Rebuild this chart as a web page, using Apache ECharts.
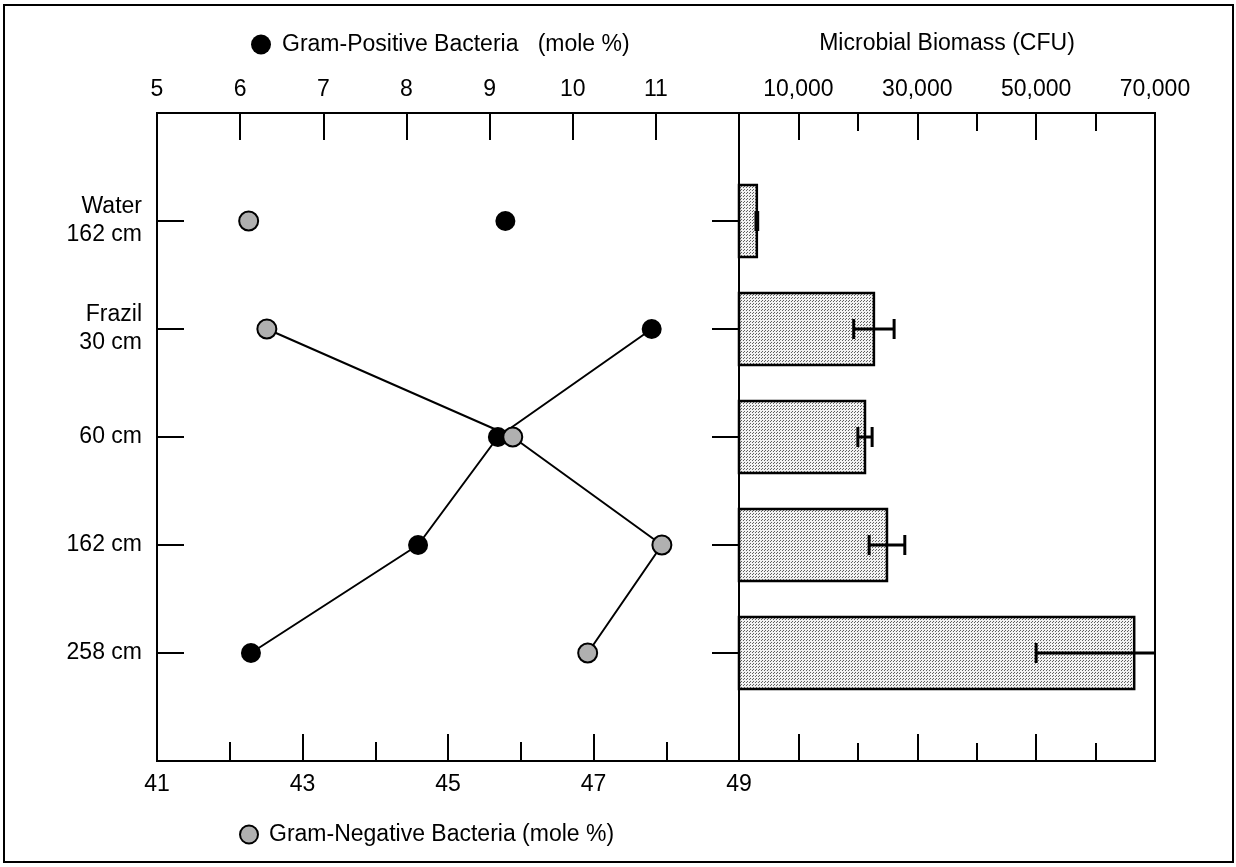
<!DOCTYPE html>
<html>
<head>
<meta charset="utf-8">
<script src="https://cdn.jsdelivr.net/npm/echarts@6/dist/echarts.min.js"></script>
<style>
  html, body { margin: 0; padding: 0; background: #fff; }
  #chart { width: 1236px; height: 867px; }
</style>
</head>
<body>
<div id="chart"></div>
<script>
// depth categories (top to bottom)
const categories = ['Water\n162 cm', 'Frazil\n30 cm', '60 cm', '162 cm', '258 cm'];
// mole % values
const gramPositive = [9.19, 10.95, 9.10, 8.14, 6.13];
const gramNegative = [42.26, 42.51, 45.89, 47.94, 46.92];
// microbial biomass (CFU) and error
const biomass = [3000, 22700, 21200, 24900, 66500];
const biomassErr = [150, 3400, 1200, 3000, 16500];

// tick labels
const gnLabels = [41, 43, 45, 47, 49];
const gnMinor = [42, 44, 46, 48];
const cfuLabels = [10000, 30000, 50000, 70000];
const cfuMajor = [10000, 30000, 50000];
const cfuMinor = [20000, 40000, 60000];

const GP_NAME = 'Gram-Positive Bacteria   (mole %)';
const GN_NAME = 'Gram-Negative Bacteria (mole %)';
const CFU_MAX = 70000;
const FONT = '"Liberation Sans", Arial, sans-serif';
const catIdx = categories.map((c, i) => i);

// stippled grey fill for the bars
function stipple() {
    const c = document.createElement('canvas');
    c.width = 3; c.height = 3;
    const ctx = c.getContext('2d');
    ctx.fillStyle = '#f2f2f2';
    ctx.fillRect(0, 0, 3, 3);
    ctx.fillStyle = '#606060';
    ctx.fillRect(0, 0, 1, 1);
    ctx.fillRect(2, 1, 1, 1);
    return { image: c, repeat: 'repeat' };
}
const barFill = stipple();

const chart = echarts.init(document.getElementById('chart'));

const lbl = { color: '#000', fontSize: 23, fontFamily: FONT };
const axLine = { show: true, onZero: false, lineStyle: { color: '#000', width: 2 } };
const noLine = { show: false, onZero: false };
const tickStyle = { color: '#000', width: 2 };

function fmtThousands(v) {
    return String(v).replace(/\B(?=(\d{3})+(?!\d))/g, ',');
}

let option = {
    animation: false,
    backgroundColor: '#fff',
    textStyle: { fontFamily: FONT },
    grid: [
        { left: 157, top: 113, width: 582, height: 648, show: true, borderColor: '#000', borderWidth: 2 },
        { left: 739, top: 113, width: 416, height: 648, show: true, borderColor: '#000', borderWidth: 2 }
    ],
    legend: [
        {
            left: 251, top: 33, padding: 0, itemWidth: 20, itemHeight: 20,
            selectedMode: false,
            data: [{ name: GP_NAME, icon: 'circle', itemStyle: { color: '#000', borderColor: '#000', borderWidth: 0, opacity: 1 } }],
            textStyle: { color: '#000', fontSize: 23, fontFamily: FONT, padding: [0, 0, 0, 6] }
        },
        {
            left: 239, top: 823, padding: 0, itemWidth: 18, itemHeight: 18,
            selectedMode: false,
            data: [{ name: GN_NAME, icon: 'circle', itemStyle: { color: '#b0b0b0', borderColor: '#000', borderWidth: 2, opacity: 1 } }],
            textStyle: { color: '#000', fontSize: 23, fontFamily: FONT, padding: [0, 0, 0, 6] }
        }
    ],
    xAxis: [
        {   // gram-positive, top of left panel
            type: 'value', gridIndex: 0, position: 'top', min: 5, max: 12, interval: 1,
            axisLine: axLine, splitLine: { show: false },
            axisTick: { inside: true, length: 27, lineStyle: tickStyle },
            axisLabel: Object.assign({ margin: 12, formatter: v => (v === 12 ? '' : v) }, lbl)
        },
        {   // gram-negative, bottom of left panel
            type: 'value', gridIndex: 0, position: 'bottom', min: 41, max: 49, interval: 1,
            axisLine: axLine, splitLine: { show: false },
            axisTick: { inside: true, length: 27, lineStyle: tickStyle, customValues: gnLabels },
            axisLabel: Object.assign({ margin: 12, customValues: gnLabels }, lbl)
        },
        {
            type: 'value', gridIndex: 0, position: 'bottom', min: 41, max: 49, interval: 1,
            axisLine: noLine, splitLine: { show: false },
            axisTick: { inside: true, length: 19, lineStyle: tickStyle, customValues: gnMinor },
            axisLabel: { show: false }
        },
        {   // biomass, top of right panel
            type: 'value', gridIndex: 1, position: 'top', min: 0, max: CFU_MAX, interval: 10000,
            axisLine: axLine, splitLine: { show: false },
            axisTick: { inside: true, length: 27, lineStyle: tickStyle, customValues: cfuMajor },
            axisLabel: Object.assign({ margin: 12, customValues: cfuLabels, formatter: fmtThousands }, lbl)
        },
        {
            type: 'value', gridIndex: 1, position: 'top', min: 0, max: CFU_MAX, interval: 10000,
            axisLine: noLine, splitLine: { show: false },
            axisTick: { inside: true, length: 18, lineStyle: tickStyle, customValues: cfuMinor },
            axisLabel: { show: false }
        },
        {
            type: 'value', gridIndex: 1, position: 'bottom', min: 0, max: CFU_MAX, interval: 10000,
            axisLine: axLine, splitLine: { show: false },
            axisTick: { inside: true, length: 27, lineStyle: tickStyle, customValues: cfuMajor },
            axisLabel: { show: false }
        },
        {
            type: 'value', gridIndex: 1, position: 'bottom', min: 0, max: CFU_MAX, interval: 10000,
            axisLine: noLine, splitLine: { show: false },
            axisTick: { inside: true, length: 18, lineStyle: tickStyle, customValues: cfuMinor },
            axisLabel: { show: false }
        }
    ],
    yAxis: [
        {
            type: 'value', gridIndex: 0, inverse: true, min: -1, max: 5, interval: 1,
            axisLine: axLine, splitLine: { show: false },
            axisTick: { inside: true, length: 27, lineStyle: tickStyle, customValues: catIdx },
            axisLabel: Object.assign({
                margin: 15, lineHeight: 28, align: 'right', customValues: catIdx,
                formatter: v => categories[v]
            }, lbl)
        },
        {
            type: 'value', gridIndex: 1, inverse: true, min: -1, max: 5, interval: 1,
            axisLine: axLine, splitLine: { show: false },
            axisTick: { inside: false, length: 27, lineStyle: tickStyle, customValues: catIdx },
            axisLabel: { show: false }
        }
    ],
    graphic: [
        {
            type: 'rect', silent: true, z: 0,
            shape: { x: 4, y: 5, width: 1229, height: 857 },
            style: { fill: 'none', stroke: '#000', lineWidth: 2 }
        },
        {
            type: 'text', x: 947, y: 44, silent: true,
            style: { text: 'Microbial Biomass (CFU)', fill: '#000', font: '23px ' + FONT, align: 'center', verticalAlign: 'middle' }
        }
    ],
    series: [
        {
            name: GP_NAME, type: 'line', xAxisIndex: 0, yAxisIndex: 0,
            symbol: 'circle', symbolSize: 20,
            itemStyle: { color: '#000', opacity: 1 }, lineStyle: { color: '#000', width: 2 },
            data: catIdx.slice(1).map(i => [gramPositive[i], i]), z: 3
        },
        {
            name: GP_NAME, type: 'scatter', xAxisIndex: 0, yAxisIndex: 0,
            symbol: 'circle', symbolSize: 20, itemStyle: { color: '#000', opacity: 1 },
            data: [[gramPositive[0], 0]], z: 3
        },
        {
            name: GN_NAME, type: 'line', xAxisIndex: 1, yAxisIndex: 0,
            symbol: 'circle', symbolSize: 19,
            itemStyle: { color: '#b0b0b0', borderColor: '#000', borderWidth: 2, opacity: 1 },
            lineStyle: { color: '#000', width: 2 },
            data: catIdx.slice(1).map(i => [gramNegative[i], i]), z: 4
        },
        {
            name: GN_NAME, type: 'scatter', xAxisIndex: 1, yAxisIndex: 0,
            symbol: 'circle', symbolSize: 19,
            itemStyle: { color: '#b0b0b0', borderColor: '#000', borderWidth: 2, opacity: 1 },
            data: [[gramNegative[0], 0]], z: 4
        },
        {
            name: 'biomass', type: 'custom', xAxisIndex: 3, yAxisIndex: 1,
            encode: { x: 0, y: 1 },
            data: biomass.map((v, i) => [v, i]),
            renderItem: function (params, api) {
                const i = api.value(1);
                const p0 = api.coord([0, i - 0.333]);
                const p1 = api.coord([api.value(0), i + 0.333]);
                return {
                    type: 'rect',
                    shape: { x: p0[0], y: p0[1], width: p1[0] - p0[0], height: p1[1] - p0[1] },
                    style: { fill: barFill, stroke: '#000', lineWidth: 2.5 }
                };
            }
        },
        {
            name: 'biomassErr', type: 'custom', xAxisIndex: 3, yAxisIndex: 1,
            encode: { x: [0, 2], y: 1 },
            data: biomass.map((v, i) => [v - biomassErr[i], i, Math.min(v + biomassErr[i], CFU_MAX), v + biomassErr[i]]),
            z: 5,
            renderItem: function (params, api) {
                const i = api.value(1);
                const lo = api.coord([api.value(0), i]);
                const hi = api.coord([api.value(2), i]);
                const clipped = api.value(3) > CFU_MAX;
                const st = { stroke: '#000', lineWidth: 3 };
                const kids = [
                    { type: 'line', shape: { x1: lo[0], y1: lo[1], x2: hi[0], y2: hi[1] }, style: st },
                    { type: 'line', shape: { x1: lo[0], y1: lo[1] - 10, x2: lo[0], y2: lo[1] + 10 }, style: st }
                ];
                if (!clipped) {
                    kids.push({ type: 'line', shape: { x1: hi[0], y1: hi[1] - 10, x2: hi[0], y2: hi[1] + 10 }, style: st });
                }
                return { type: 'group', children: kids };
            }
        }
    ]
};

chart.setOption(option);
</script>
</body>
</html>
